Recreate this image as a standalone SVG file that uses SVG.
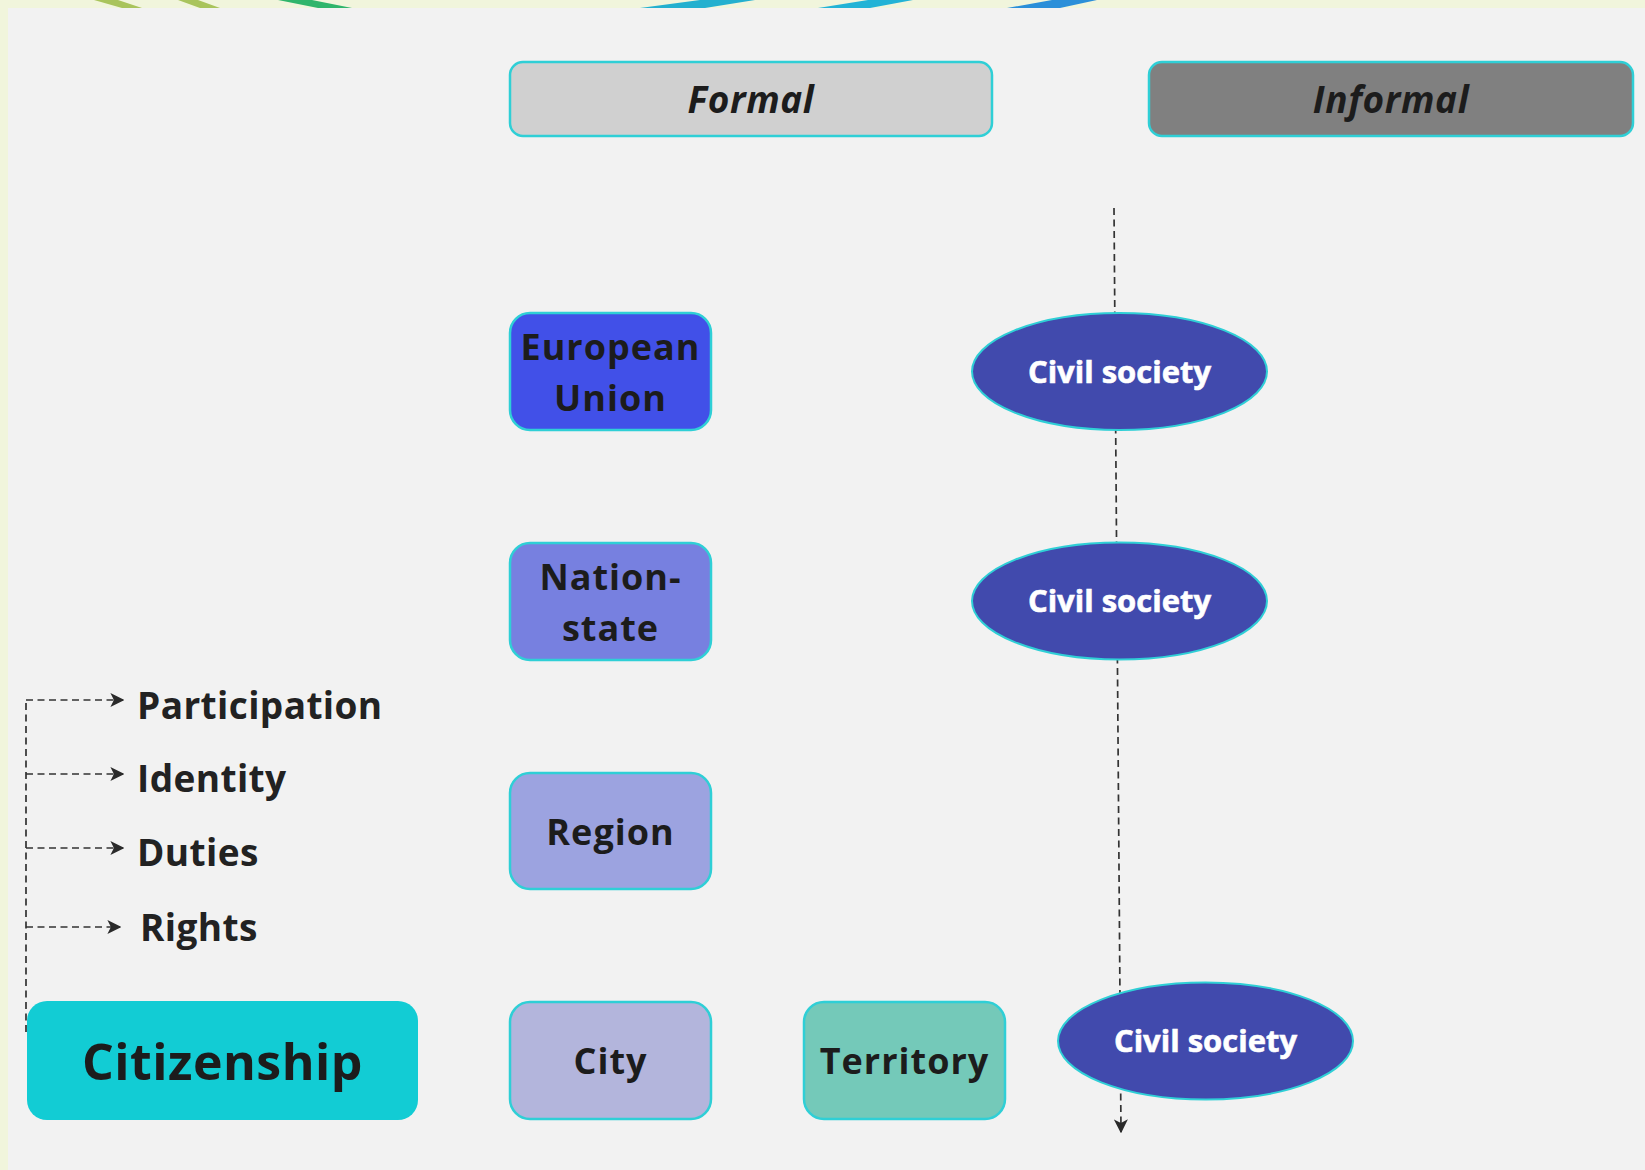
<svg xmlns="http://www.w3.org/2000/svg" width="1645" height="1170" viewBox="0 0 1645 1170">
<defs>
<style>
.box{stroke:#2fcfd6;stroke-width:2.5}
.lbl{font-family:"Open Sans","Noto Sans",sans-serif;font-weight:700;fill:#1c1c1c;text-anchor:middle}
.hdr{font-family:"Open Sans","Noto Sans",sans-serif;font-weight:700;font-style:italic;fill:#1c1c1c;text-anchor:middle;font-size:37px;letter-spacing:0.6px}
.cs{fill:#414aad;stroke:#2fcfd6;stroke-width:2}
.cst{font-family:"Open Sans","Noto Sans",sans-serif;font-weight:700;fill:#ffffff;text-anchor:middle;font-size:31px;stroke:#ffffff;stroke-width:0.6}
.side{font-family:"Open Sans","Noto Sans",sans-serif;font-weight:700;fill:#222;font-size:37px;letter-spacing:0.4px}
.dash{fill:none;stroke:#333;stroke-width:1.7;stroke-dasharray:7 4.5}
</style>
<marker id="ah" viewBox="0 0 10 10" refX="9" refY="5" markerWidth="14" markerHeight="14" markerUnits="userSpaceOnUse" orient="auto">
<path d="M0,0 L10,5 L0,10 L2.5,5 Z" fill="#2a2a2a"/>
</marker>
</defs>
<rect x="0" y="0" width="1645" height="1170" fill="#f1f5dc"/>
<g id="decor">
<polygon points="94,0 118,0 142,8 122,8" fill="#a9c45c"/>
<polygon points="178,0 198,0 220,8 200,8" fill="#a9c45c"/>
<polygon points="278,0 312,0 352,8 318,8" fill="#2fb56c"/>
<polygon points="700,0 755,0 705,8 640,8" fill="#23b0cf"/>
<polygon points="868,0 913,0 870,8 818,8" fill="#22b3d6"/>
<polygon points="1052,0 1097,0 1060,8 1007,8" fill="#2b8fd9"/>
</g>
<rect x="8" y="8" width="1637" height="1162" fill="#f2f2f2"/>
<g id="connectors">
<path class="dash" d="M1114,208 L1121,1132" stroke-dasharray="8 6" marker-end="url(#ah)"/>
<path class="dash" d="M26,1032 L26,700"/>
<path class="dash" d="M26,700 L123,700" marker-end="url(#ah)"/>
<path class="dash" d="M26,774 L123,774" marker-end="url(#ah)"/>
<path class="dash" d="M26,848 L123,848" marker-end="url(#ah)"/>
<path class="dash" d="M26,927 L120,927" marker-end="url(#ah)"/>
</g>
<g id="formal">
<rect class="box" x="510" y="62" width="482" height="74" rx="13" fill="#d0d0d0"/>
<text class="hdr" x="751" y="113">Formal</text>
</g>
<g id="informal">
<rect class="box" x="1149" y="62" width="484" height="74" rx="13" fill="#808080"/>
<text class="hdr" x="1391" y="113">Informal</text>
</g>
<g id="european-union">
<rect class="box" x="510" y="313" width="201" height="117" rx="20" fill="#4150e8"/>
<text class="lbl" x="610.5" y="360" font-size="36" letter-spacing="1">European</text>
<text class="lbl" x="610.5" y="411" font-size="36" letter-spacing="1">Union</text>
</g>
<g id="nation-state">
<rect class="box" x="510" y="543" width="201" height="117" rx="20" fill="#7780e0"/>
<text class="lbl" x="610.5" y="590" font-size="36" letter-spacing="1">Nation-</text>
<text class="lbl" x="610.5" y="641" font-size="36" letter-spacing="1">state</text>
</g>
<g id="region">
<rect class="box" x="510" y="773" width="201" height="116" rx="20" fill="#9ca3e0"/>
<text class="lbl" x="610.5" y="845" font-size="36" letter-spacing="1">Region</text>
</g>
<g id="city">
<rect class="box" x="510" y="1002" width="201" height="117" rx="20" fill="#b3b5dc"/>
<text class="lbl" x="610.5" y="1074" font-size="36" letter-spacing="1">City</text>
</g>
<g id="territory">
<rect class="box" x="804" y="1002" width="201" height="117" rx="20" fill="#74c9b9"/>
<text class="lbl" x="904.5" y="1074" font-size="36" letter-spacing="1">Territory</text>
</g>
<g id="citizenship">
<rect x="27" y="1001" width="391" height="119" rx="20" fill="#12ccd4"/>
<text class="lbl" x="222.5" y="1080" font-size="50" letter-spacing="0.5">Citizenship</text>
</g>
<g id="civil-society-1">
<ellipse class="cs" cx="1119.5" cy="371.5" rx="147.5" ry="58.5"/>
<text class="cst" x="1119.5" y="383">Civil society</text>
</g>
<g id="civil-society-2">
<ellipse class="cs" cx="1119.5" cy="601" rx="147.5" ry="58.5"/>
<text class="cst" x="1119.5" y="612">Civil society</text>
</g>
<g id="civil-society-3">
<ellipse class="cs" cx="1205.5" cy="1041" rx="147.5" ry="58.5"/>
<text class="cst" x="1205.5" y="1052">Civil society</text>
</g>
<g id="participation"><text class="side" x="137" y="719">Participation</text></g>
<g id="identity"><text class="side" x="137" y="792">Identity</text></g>
<g id="duties"><text class="side" x="137" y="866">Duties</text></g>
<g id="rights"><text class="side" x="140" y="941">Rights</text></g>
</svg>
